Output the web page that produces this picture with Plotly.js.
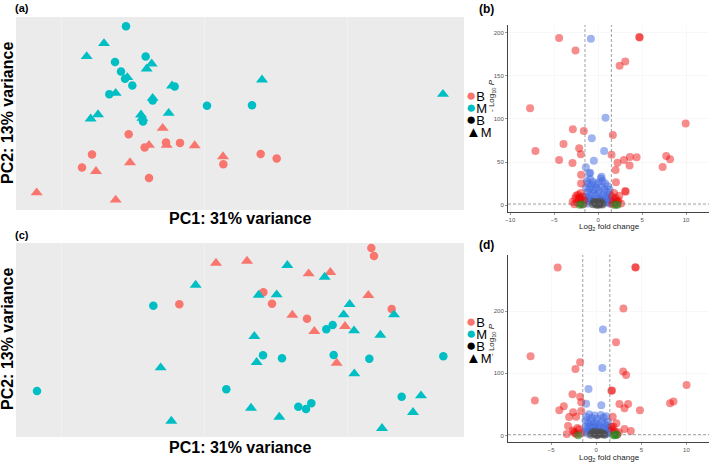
<!DOCTYPE html>
<html lang="en">

<head>
  <meta charset="UTF-8">
  <title>PCA and volcano plots</title>
  <script src="https://cdn.plot.ly/plotly-3.0.1.min.js"></script>
  <style>
    * {
      margin: 0;
      padding: 0;
      box-sizing: border-box;
    }

    body {
      background: #ffffff;
    }

    #chart {
      width: 709px;
      height: 463px;
    }
  </style>
</head>

<body>
  <div id="chart"></div>

  <script>
    // ---- PCA (a): colour group / shape group
    const aRedCircX = [-3.1, -0.7, 2.5, 4.6, 11.1, 16.7, 19.1, -8.6, -10.1, -0.05];
    const aRedCircY = [-3.65, -5.65, -4.9, -4.95, -8.15, -6.6, -7.3, -6.7, -8.65, -10.2];
    const aRedTriX = [2.0, -0.05, 2.6, 6.8, 11.05, -2.9, -8.0, -16.9, -5.05];
    const aRedTriY = [-2.75, -5.3, -5.3, -5.35, -7.0, -7.9, -9.2, -12.4, -13.5];
    const aCyanCircX = [-3.5, -0.55, -5.15, -4.25, -3.65, -2.55, -6.0, 0.5, 3.8, 8.65, 15.4, -0.95];
    const aCyanCircY = [12.5, 8.0, 7.15, 5.75, 4.65, 3.65, 2.35, 1.4, 3.5, 0.6, 0.7, -1.75];
    const aCyanTriX = [-6.8, -9.4, 0.35, -0.4, -3.3, -5.05, 0.5, 3.4, 16.9, 44.05, -8.8, -7.7, -1.25, -1.05, 2.9];
    const aCyanTriY = [9.95, 8.0, 6.9, 6.15, 4.85, 2.5, 1.75, 3.6, 4.5, 2.35, -1.35, -0.7, -0.75, -1.25, -0.5];

    // ---- PCA (c)
    const cRedCircX = [33.3, 33.7, 17.1, 18.4, 4.5, 23.65, 36.35];
    const cRedCircY = [13.35, 12.15, 6.7, 5.0, 4.9, 2.75, 4.2];
    const cRedTriX = [10.0, 14.65, 23.9, 27.15, 32.85, 21.45, 24.75, 29.35, 28.1];
    const cRedTriY = [11.1, 11.4, 9.5, 9.7, 6.25, 3.3, 0.85, 1.6, -3.9];
    const cCyanCircX = [0.6, 26.55, 27.5, 17.05, 19.9, 27.65, 33.0, 44.1, -16.85, 11.55, 22.35, 23.5, 24.3, 37.85];
    const cCyanCircY = [4.7, 1.15, 1.8, -2.75, -3.2, -2.7, -3.25, -2.9, -8.1, -7.85, -10.45, -10.8, -9.95, -8.95];
    const cCyanTriX = [20.7, 26.3, 6.95, 16.4, 19.1, 30.05, 29.15, 36.7, 30.7, 34.65, 15.75, 16.1, 1.7, 30.75, 40.75, 39.55, 15.25, 19.5, 3.3, 34.9];
    const cCyanTriY = [10.75, 9.0, 7.8, 6.3, 6.35, 4.9, 3.35, 3.35, 0.95, 0.3, 0.1, -3.8, -4.6, -5.5, -8.8, -11.3, -10.65, -12.0, -12.6, -13.7];

    const legendLabels = ["B", "M", "B", "M"];

    // ---- volcano (b)
    const bRedX = [-4.44, -2.58, 4.67, 4.72, 2.44, 3.08, -7.74, 9.95, -2.88, -1.63, 1.67, -3.94, -7.13, -2.16, -1.97,
      1.52, -4.44, -2.92, 2.2, 2.93, 3.61, 4.37, 3.57, 7.74, 8.17, 7.33, 1.98, -1.94, -1.94, 2.02, 3.08, 3.12,
      -2.9, -2.6, -2.3, -2.0, -1.8, -1.6, -2.4, -2.0, -1.7, -2.7, -2.2, -1.9, -2.5, -2.1,
      1.6, 1.8, 2.0, 2.3, 2.6, 1.7, 2.1, 1.9, 2.4, 1.6, 2.2];
    const bRedY = [193.8, 179.4, 195, 194.5, 161.6, 166.7, 112.4, 94.6, 88, 86, 81.4, 70.9, 62.8, 65.9, 58.9,
      58.5, 52.3, 48.8, 49.2, 52.3, 55.8, 55.4, 46.1, 57, 53.1, 44.2, 40.7, 35.2, 25.2, 26.4, 16.3, 15.6,
      4, 8, 12, 14, 10, 6, 3, 2, 1, 1, 7, 5, 11, 9,
      10, 14, 8, 5, 2, 3, 1, 6, 11, 1, 4];
    const bBlueX = [-0.83, 0.84, -0.72, 0.68, -0.49, -1.4, -1.02, -0.9, 0.38,
      -1.3, -1.1, -0.9, -0.6, -0.3, 0, 0.3, 0.5, 0.8, 1.1, 1.3,
      -1.4, -1.2, -1.0, -0.8, -0.5, -0.2, 0.1, 0.4, 0.7, 1.0, 1.3,
      -1.4, -1.1, -0.9, -0.6, -0.3, 0, 0.3, 0.6, 0.9, 1.2, 1.4,
      -1.4, -1.2, -1.0, -0.7, -0.4, -0.1, 0.2, 0.5, 0.8, 1.1, 1.3];
    const bBlueY = [193, 101.5, 77.5, 62.8, 51.5, 43.8, 36.8, 37.6, 33,
      28, 25, 30, 27, 24, 26, 31, 28, 25, 22, 18,
      20, 15, 19, 22, 18, 20, 17, 21, 18, 15, 12,
      10, 8, 12, 14, 11, 13, 9, 12, 10, 7, 5,
      4, 2, 5, 6, 4, 7, 5, 6, 4, 3, 2];
    const bGreyX = [-0.6, -0.4, -0.2, 0, 0.2, 0.4, -0.5, -0.1, 0.3, 0.1, -0.3, 0.5];
    const bGreyY = [1, 2.5, 0.5, 3, 1.5, 2, 4, 1, 4, 0.3, 3.5, 0.8];
    const bGreenX = [-2.1, 2.2, -1.8, 1.9];
    const bGreenY = [0.3, 0.5, 0.8, 0.2];

    // ---- volcano (d)
    const dRedX = [-4.28, 4.32, 4.38, 3.01, 2.19, -7.29, -1.79, -2.31, 2.98, 3.31, 10.01, 1.67, 1.75, -2.64, -1.79,
      -1.67, -6.81, 8.18, 8.56, 2.57, 3.53, 3.13, 4.84, -3.6, -4.1, -2.57, -1.67, -3.01, -2.23, 1.82, -3.13,
      -3.27, 3.13, 3.83, 2.23, 1.9,
      -2.46, -2.4, -2.2, -2.6, -1.9, -1.7, -2.1, 2.12, 2.0, 1.8, 2.3, 1.7, 2.5];
    const dRedY = [269.8, 270.4, 269.9, 203.9, 149.8, 127.3, 117.7, 106.9, 102.6, 97.3, 81.2, 72, 72.3, 66.2, 62.4,
      53.4, 56, 51.8, 54.4, 50.6, 50.6, 43.7, 40.5, 46.9, 40.5, 37.3, 39.4, 29.7, 30.2, 30.2, 15.3,
      2.4, 10.5, 7.2, 19.6, 14,
      6, 4, 2, 8, 10, 3, 12, 6, 3, 9, 1, 14, 5];
    const dBlueX = [0.74, 0.67, -0.86, -1.12, 0.56,
      -1.1, -0.8, -0.5, -0.2, 0.1, 0.5, 0.8, 1.1, 1.3,
      -1.2, -0.9, -0.6, -0.3, 0, 0.3, 0.6, 0.9, 1.2, 1.4,
      -1.2, -1.0, -0.7, -0.4, -0.1, 0.2, 0.5, 0.8, 1.1, 1.4,
      -1.3, -1.0, -0.8, -0.5, -0.2, 0.1, 0.4, 0.7, 1.0, 1.3];
    const dBlueY = [170.2, 108.5, 74.8, 51.1, 48.5,
      30, 34, 28, 32, 27, 33, 29, 31, 22,
      24, 20, 23, 18, 21, 17, 22, 19, 16, 12,
      14, 11, 15, 12, 14, 10, 13, 11, 9, 6,
      6, 3, 7, 4, 6, 3, 5, 4, 2, 3];
    const dGreyX = [-0.6, -0.3, 0, 0.3, 0.6, 0.9, -0.4, 0.1, 0.5, -0.1, 0.8, 0.2];
    const dGreyY = [1, 3, 1.5, 4, 2, 1, 5, 0.5, 5, 6, 3, 2.5];
    const dGreenX = [2.1, 2.3, -2.0, 1.9];
    const dGreenY = [0.5, 1.5, 0.4, 0.2];

    const fcCut = 1.5;
    const pCut = 1.3;

    const RED = "#F8766D";
    const CYAN = "#00BFC4";
    const FONT = "Liberation Sans, Arial, sans-serif";

    function pcaTrace(x, y, color, symbol, xa, ya) {
      return {
        x: x, y: y, xaxis: xa, yaxis: ya,
        type: "scatter", mode: "markers", showlegend: false, hoverinfo: "skip",
        marker: { color: color, symbol: symbol, size: symbol === "circle" ? 8.5 : 10.5, line: { width: 0 } }
      };
    }

    function volTrace(x, y, color, xa, ya) {
      return {
        x: x, y: y, xaxis: xa, yaxis: ya,
        type: "scatter", mode: "markers", showlegend: false, hoverinfo: "skip",
        marker: { color: color, size: 8, line: { width: 0 } }
      };
    }

    const data = [
      pcaTrace(aRedCircX, aRedCircY, RED, "circle", "x", "y"),
      pcaTrace(aRedTriX, aRedTriY, RED, "triangle-up", "x", "y"),
      pcaTrace(aCyanCircX, aCyanCircY, CYAN, "circle", "x", "y"),
      pcaTrace(aCyanTriX, aCyanTriY, CYAN, "triangle-up", "x", "y"),
      pcaTrace(cRedCircX, cRedCircY, RED, "circle", "x3", "y3"),
      pcaTrace(cRedTriX, cRedTriY, RED, "triangle-up", "x3", "y3"),
      pcaTrace(cCyanCircX, cCyanCircY, CYAN, "circle", "x3", "y3"),
      pcaTrace(cCyanTriX, cCyanTriY, CYAN, "triangle-up", "x3", "y3"),
      volTrace(bBlueX, bBlueY, "rgba(65,105,225,0.5)", "x2", "y2"),
      volTrace(bRedX, bRedY, "rgba(238,0,0,0.45)", "x2", "y2"),
      volTrace(bGreenX, bGreenY, "rgba(34,139,34,0.6)", "x2", "y2"),
      volTrace(bGreyX, bGreyY, "rgba(77,77,77,0.6)", "x2", "y2"),
      volTrace(dBlueX, dBlueY, "rgba(65,105,225,0.5)", "x4", "y4"),
      volTrace(dRedX, dRedY, "rgba(238,0,0,0.45)", "x4", "y4"),
      volTrace(dGreenX, dGreenY, "rgba(34,139,34,0.6)", "x4", "y4"),
      volTrace(dGreyX, dGreyY, "rgba(77,77,77,0.6)", "x4", "y4")
    ];

    const W = 709, H = 463;
    const px = v => v / W;
    const py = v => 1 - v / H;

    function pcaX(dom) {
      return {
        domain: dom, range: [-20, 47.2], showticklabels: false, ticks: "",
        showgrid: true, gridcolor: "#f2f2f2", gridwidth: 0.8, tick0: -13.15, dtick: 21.4,
        zeroline: false, showline: false, fixedrange: true
      };
    }
    function pcaY(dom, top) {
      return {
        domain: dom, range: [-15, top], showticklabels: false, ticks: "",
        showgrid: false, zeroline: false, showline: false, fixedrange: true
      };
    }
    function volX(dom, range, anchor) {
      return {
        domain: dom, range: range, anchor: anchor, tickvals: [-10, -5, 0, 5, 10],
        ticks: "outside", ticklen: 2, tickcolor: "#555", tickwidth: 0.6,
        tickfont: { family: FONT, size: 6, color: "#555" },
        showline: true, linecolor: "#444", linewidth: 1, zeroline: false,
        showgrid: true, gridcolor: "#f4f4f4", gridwidth: 0.6
      };
    }
    function volY(dom, range, vals, anchor) {
      return {
        domain: dom, range: range, anchor: anchor, tickvals: vals,
        ticks: "outside", ticklen: 2, tickcolor: "#555", tickwidth: 0.6,
        tickfont: { family: FONT, size: 6, color: "#555" },
        showline: true, linecolor: "#444", linewidth: 1, zeroline: false,
        showgrid: true, gridcolor: "#f4f4f4", gridwidth: 0.6
      };
    }

    const annotations = [];
    function txt(x, y, text, opts) {
      annotations.push(Object.assign({
        xref: "paper", yref: "paper", x: px(x), y: py(y), text: text, showarrow: false,
        xanchor: "center", yanchor: "middle", font: { family: FONT, size: 11, color: "#000" }
      }, opts || {}));
    }

    // panel letters
    txt(13, 8, "<b>(a)</b>", { xanchor: "left", font: { family: FONT, size: 11, color: "#000" } });
    txt(13, 235, "<b>(c)</b>", { xanchor: "left", font: { family: FONT, size: 11, color: "#000" } });
    txt(477, 9, "<b>(b)</b>", { xanchor: "left", font: { family: FONT, size: 12, color: "#000" } });
    txt(477, 245, "<b>(d)</b>", { xanchor: "left", font: { family: FONT, size: 12, color: "#000" } });

    // PCA axis titles
    const pcaFont = { family: FONT, size: 16, color: "#000" };
    txt(240, 218, "<b>PC1: 31% variance</b>", { font: pcaFont });
    txt(240, 447, "<b>PC1: 31% variance</b>", { font: pcaFont });
    txt(7, 113, "<b>PC2: 13% variance</b>", { font: pcaFont, textangle: -90 });
    txt(7, 339, "<b>PC2: 13% variance</b>", { font: pcaFont, textangle: -90 });

    // PCA legends: one block, base size sets the tight row spacing
    const legendGlyphs = [
      `<span style="color:${RED};font-size:17px">●</span>`,
      `<span style="color:${CYAN};font-size:17px">●</span>`,
      `<span style="color:#000;font-size:17px">●</span>`,
      `<span style="color:#000;font-size:15px">▲</span>`
    ];
    const legendText = legendGlyphs.map((g, i) => g + `<span style="font-size:13px">${legendLabels[i]}</span>`).join("<br>");
    const legFont = { family: FONT, size: 9.3, color: "#000" };
    txt(464, 113, legendText, { xanchor: "left", align: "left", font: legFont });
    txt(464, 339, legendText, { xanchor: "left", align: "left", font: legFont });

    // volcano axis titles
    const volFont = { family: FONT, size: 8, color: "#222" };
    txt(609, 227, "Log<sub>2</sub> fold change", { font: volFont });
    txt(609, 458, "Log<sub>2</sub> fold change", { font: volFont });
    txt(492, 96, "- Log<sub>10</sub> <i>P</i>", { font: volFont, textangle: -90 });
    txt(492, 340, "- Log<sub>10</sub> <i>P</i>", { font: volFont, textangle: -90 });

    const dash = { color: "#777", width: 0.7, dash: "3px,2px" };
    const shapes = [];
    [["x2", "y2"], ["x4", "y4"]].forEach(([xa, ya]) => {
      [-fcCut, fcCut].forEach(v => shapes.push({
        type: "line", xref: xa, yref: ya + " domain", x0: v, x1: v, y0: 0, y1: 1, line: dash
      }));
      shapes.push({ type: "line", xref: xa + " domain", yref: ya, x0: 0, x1: 1, y0: pCut, y1: pCut, line: dash });
    });

    const layout = {
      width: W, height: H,
      margin: { l: 0, r: 0, t: 0, b: 0 },
      paper_bgcolor: "#ffffff",
      plot_bgcolor: "#ffffff",
      showlegend: false,
      xaxis: pcaX([px(16), px(464)]),
      yaxis: pcaY([py(210), py(17)], 13.9),
      xaxis3: pcaX([px(16), px(464)]),
      yaxis3: pcaY([py(437), py(243)], 14.1),
      xaxis2: volX([px(508), 1], [-10.25, 12.6], "y2"),
      yaxis2: volY([py(212), py(25)], [-8, 209], [0, 50, 100, 150, 200], "x2"),
      xaxis4: volX([px(508), 1], [-9.79, 12.5], "y4"),
      yaxis4: volY([py(442), py(255)], [-10.5, 290], [0, 100, 200], "x4"),
      annotations: annotations,
      shapes: shapes.concat([
        { type: "rect", xref: "x domain", yref: "y domain", x0: 0, x1: 1, y0: 0, y1: 1, fillcolor: "#EBEBEB", line: { width: 0 }, layer: "below" },
        { type: "rect", xref: "x3 domain", yref: "y3 domain", x0: 0, x1: 1, y0: 0, y1: 1, fillcolor: "#EBEBEB", line: { width: 0 }, layer: "below" }
      ])
    };

    Plotly.newPlot("chart", data, layout, { displayModeBar: false, staticPlot: true });
  </script>
</body>

</html>
